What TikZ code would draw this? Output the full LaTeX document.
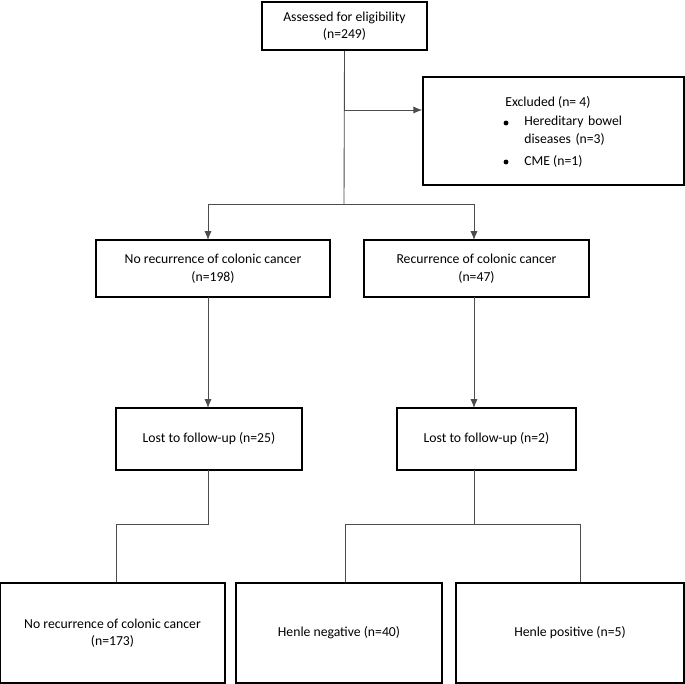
\documentclass[tikz,border=0pt]{standalone}
\usepackage{fontspec}
\setmainfont{Carlito}
\usetikzlibrary{arrows.meta,positioning}
\tikzset{
	flowbox/.style={draw, line width=0.9pt, align=center, inner sep=0pt, font=\fontsize{7.8}{10}\selectfont},
	bullettxt/.style={font=\fontsize{7.8}{10}\selectfont, anchor=north west, align=left, inner sep=0pt},
	link/.style={draw=black!70, line width=0.5pt},
	arr/.style={link, -{Latex[length=5pt,width=4pt]}}
}
\begin{document}
\begin{tikzpicture}[x=0.02cm, y=-0.02cm]
	\useasboundingbox (0,0) rectangle (685,683);
	% top part
	\node[flowbox, minimum width=165*0.02cm, minimum height=48*0.02cm] (assess) at (344.5,26) {Assessed for eligibility\\(n=249)};
	\node[flowbox, minimum width=261*0.02cm, minimum height=108*0.02cm] (excl) at (553.5,131) {};
	\node[bullettxt] (excltxt) at (505,96) {Excluded (n= 4)};
	\node[bullettxt, text width=110*0.02cm] (hered) at (524,116) {Hereditary bowel\\diseases (n=3)};
	\node[bullettxt] (cme) at (524,155) {CME (n=1)};
	\fill (506,123) circle (1.4pt) (506,162) circle (1.4pt);
	\coordinate (split) at (344,204);
	\coordinate (exc) at (344,110);
	% second row
	\node[flowbox, minimum width=234*0.02cm, minimum height=57*0.02cm] (norec) at (213,268.5) {No recurrence of colonic cancer\\(n=198)};
	\node[flowbox, minimum width=225*0.02cm, minimum height=57*0.02cm] (rec) at (476.5,268.5) {Recurrence of colonic cancer\\(n=47)};
	% third row
	\node[flowbox, minimum width=186*0.02cm, minimum height=62*0.02cm] (lostA) at (209,439) {Lost to follow-up (n=25)};
	\node[flowbox, minimum width=179*0.02cm, minimum height=62*0.02cm] (lostB) at (486.5,439) {Lost to follow-up (n=2)};
	% bottom row
	\node[flowbox, minimum width=225*0.02cm, minimum height=100*0.02cm] (final) at (112.5,633) {No recurrence of colonic cancer\\(n=173)};
	\node[flowbox, minimum width=206*0.02cm, minimum height=100*0.02cm] (neg) at (339,633) {Henle negative (n=40)};
	\node[flowbox, minimum width=228*0.02cm, minimum height=100*0.02cm] (pos) at (570,633) {Henle positive (n=5)};
	% connectors
	\draw[link] (assess.south) -- (split);
	\draw[arr] (exc) -- (excl.west |- exc);
	\draw[arr] (split) -| (208,240);
	\draw[arr] (split) -| (474,240);
	\draw[arr] (208,297) -- (208,408);
	\draw[arr] (474,297) -- (474,408);
	\draw[link] (208,470) -- (208,524) -| (final.north -| 116,0);
	\draw[link] (474,470) -- (474,524);
	\draw[link] (neg.north -| 345,0) |- (345,524) -| (pos.north -| 580,0);
\end{tikzpicture}
\end{document}
